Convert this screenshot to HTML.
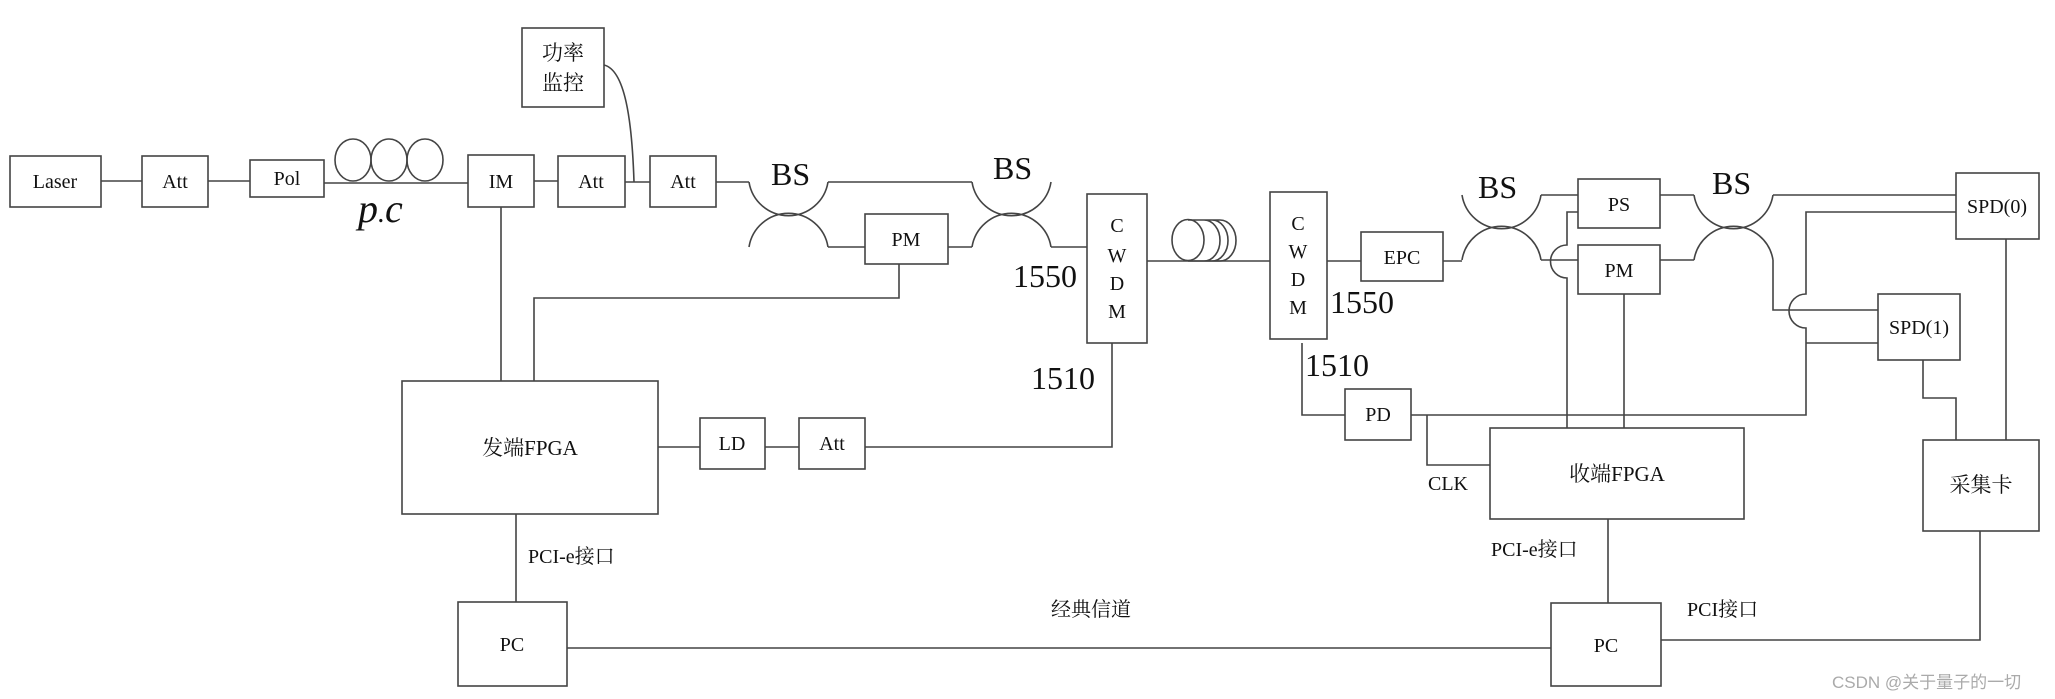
<!DOCTYPE html>
<html><head><meta charset="utf-8"><style>
html,body{margin:0;padding:0;background:#fff;}
svg{display:block;}
text{font-family:"Liberation Serif","Noto Serif CJK SC","Noto Sans CJK SC",serif;fill:#111;}
</style></head><body>
<svg width="2055" height="699" viewBox="0 0 2055 699" xmlns="http://www.w3.org/2000/svg">
<g fill="none" stroke="#444" stroke-width="1.6">
<!-- boxes -->
<rect x="10" y="156" width="91" height="51"/>
<rect x="142" y="156" width="66" height="51"/>
<rect x="250" y="160" width="74" height="37"/>
<rect x="468" y="155" width="66" height="52"/>
<rect x="558" y="156" width="67" height="51"/>
<rect x="650" y="156" width="66" height="51"/>
<rect x="522" y="28" width="82" height="79"/>
<rect x="865" y="214" width="83" height="50"/>
<rect x="402" y="381" width="256" height="133"/>
<rect x="700" y="418" width="65" height="51"/>
<rect x="799" y="418" width="66" height="51"/>
<rect x="458" y="602" width="109" height="84"/>
<rect x="1087" y="194" width="60" height="149"/>
<rect x="1270" y="192" width="57" height="147"/>
<rect x="1361" y="232" width="82" height="49"/>
<rect x="1578" y="179" width="82" height="49"/>
<rect x="1578" y="245" width="82" height="49"/>
<rect x="1956" y="173" width="83" height="66"/>
<rect x="1878" y="294" width="82" height="66"/>
<rect x="1923" y="440" width="116" height="91"/>
<rect x="1345" y="389" width="66" height="51"/>
<rect x="1490" y="428" width="254" height="91"/>
<rect x="1551" y="603" width="110" height="83"/>
<!-- coils -->
<ellipse cx="353" cy="160" rx="18" ry="21"/>
<ellipse cx="389" cy="160" rx="18" ry="21"/>
<ellipse cx="425" cy="160" rx="18" ry="21"/>
<ellipse cx="1188" cy="240" rx="16" ry="20.5"/>
<path d="M1204,220 A16,20.5 0 0 1 1204,261 M1212,220 A16,20.5 0 0 1 1212,261 M1220,220 A16,20.5 0 0 1 1220,261 M1188,220 L1220,220 M1188,261 L1220,261"/>
<!-- top main lines -->
<path d="M101,181 H142 M208,181 H250 M324,183 H468 M534,181 H558 M625,182 H650 M716,182 H749"/>
<path d="M604,65 C625,70 632,120 634,182"/>
<!-- BS1 -->
<path d="M749,182 A40,40 0 0 0 828,182 M749,247 A40,40 0 0 1 828,247"/>
<path d="M828,182 H972 M828,247 H865 M948,247 H972"/>
<!-- BS2 -->
<path d="M972,182 A40,40 0 0 0 1051,182 M972,247 A40,40 0 0 1 1051,247 M1051,247 H1087"/>
<!-- connections left -->
<path d="M501,207 V381 M899,264 V298 H534 V381 M658,447 H700 M765,447 H799 M865,447 H1112 V343 M516,514 V602 M567,648 H1551"/>
<path d="M1147,261 H1270 M1327,261 H1361 M1443,261 H1462"/>
<!-- BS3 -->
<path d="M1462,195 A40,40 0 0 0 1541,195 M1462,260 A40,40 0 0 1 1541,260 M1541,195 H1578 M1541,260 H1578"/>
<!-- BS4 -->
<path d="M1694,195 A40,40 0 0 0 1773,195 M1694,260 A40,40 0 0 1 1773,260 M1660,195 H1694 M1660,260 H1694 M1773,195 H1956 M1773,260 V310 H1878"/>
<!-- vertical with hops -->
<path d="M1578,212 H1567 V245 A16,16 0 0 0 1567,278 V428 M1624,294 V428"/>
<path d="M1956,212 H1806 V294 A16,16 0 0 0 1806,328 V415 H1411 M1806,343 H1878"/>
<path d="M1302,343 V415 H1345 M1427,415 V465 H1490 M1608,519 V603"/>
<path d="M1923,360 V398 H1956 V440 M2006,239 V440 M1980,531 V640 H1661"/>
</g>
<g font-size="20" text-anchor="middle">
<text x="55" y="188">Laser</text>
<text x="175" y="188">Att</text>
<text x="287" y="185">Pol</text>
<text x="501" y="188">IM</text>
<text x="591" y="188">Att</text>
<text x="683" y="188">Att</text>
<text x="563" y="60" font-size="21">功率</text>
<text x="563" y="90" font-size="21">监控</text>
<text x="906" y="246">PM</text>
<text x="530" y="455" font-size="21">发端FPGA</text>
<text x="732" y="450">LD</text>
<text x="832" y="450">Att</text>
<text x="512" y="651">PC</text>
<text x="1402" y="264">EPC</text>
<text x="1619" y="211">PS</text>
<text x="1619" y="277">PM</text>
<text x="1997" y="213">SPD(0)</text>
<text x="1919" y="334">SPD(1)</text>
<text x="1981" y="492" font-size="21">采集卡</text>
<text x="1378" y="421">PD</text>
<text x="1617" y="481" font-size="21">收端FPGA</text>
<text x="1606" y="652">PC</text>
<text x="1117" y="232">C</text><text x="1117" y="262">W</text><text x="1117" y="290">D</text><text x="1117" y="318">M</text>
<text x="1298" y="230">C</text><text x="1298" y="258">W</text><text x="1298" y="286">D</text><text x="1298" y="314">M</text>
</g>
<g font-size="20">
<text x="528" y="563">PCI-e接口</text>
<text x="1491" y="556">PCI-e接口</text>
<text x="1051" y="616">经典信道</text>
<text x="1687" y="616">PCI接口</text>
<text x="1428" y="490">CLK</text>
</g>
<g font-size="32">
<text x="771" y="185">BS</text>
<text x="993" y="179">BS</text>
<text x="1478" y="198">BS</text>
<text x="1712" y="194">BS</text>
<text x="1013" y="287">1550</text>
<text x="1031" y="389">1510</text>
<text x="1330" y="313">1550</text>
<text x="1305" y="376">1510</text>
</g>
<text x="358" y="222" font-size="40" font-style="italic">p<tspan font-size="28">.</tspan>c</text>
<text x="1832" y="688" font-size="17" style="font-family:'Liberation Sans','Noto Sans CJK SC',sans-serif;fill:#aaa">CSDN @关于量子的一切</text>
</svg>
</body></html>
